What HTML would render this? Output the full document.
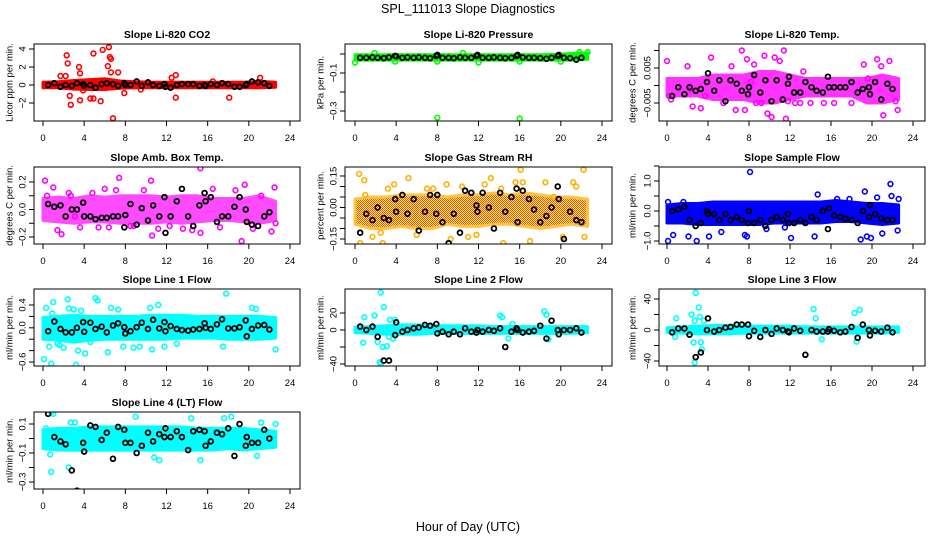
<!DOCTYPE html>
<html><head><meta charset="utf-8"><style>
html,body{margin:0;padding:0;background:#fff;}
svg{display:block;font-family:"Liberation Sans",Arial,sans-serif;}
</style></head><body>
<svg id="chart" width="936" height="540" viewBox="0 0 936 540" xmlns="http://www.w3.org/2000/svg">
<defs>
<pattern id="rhpat" width="2" height="2" patternUnits="userSpaceOnUse"><rect width="2" height="2" fill="#ffff00"/><rect width="1" height="1" fill="#ff0000"/><rect x="1" y="1" width="1" height="1" fill="#ff0000"/></pattern>
</defs>
<text x="468" y="13" text-anchor="middle" font-size="12.5">SPL_111013  Slope Diagnostics</text>
<text x="468" y="531" text-anchor="middle" font-size="12.5">Hour of Day (UTC)</text>
<g id="panels"></g>
</svg>
<script>
// ---- shared data ----
const xTicks = [0,4,8,12,16,20,24];
const blackHours = [0.5,1.1,1.7,2.2,2.8,3.3,3.9,4.0,4.6,5.1,5.7,6.2,6.8,7.3,7.9,8.0,8.5,9.1,9.6,10.2,10.7,11.3,11.8,11.9,12.4,13.0,13.5,14.1,14.6,15.2,15.7,15.8,16.3,16.9,17.4,18.0,18.6,19.1,19.7,19.8,20.3,20.9,21.5,22.0];
const bandHours = [0,1.5,3,4.5,6,7.5,9,10.5,12,13.5,15,16.5,18,19.5,21,22.6];

// ---- panel 1: CO2 ----
const co2BandLo = [-0.3,-0.3,-0.45,-0.5,-0.5,-0.35,-0.3,-0.3,-0.3,-0.3,-0.3,-0.3,-0.3,-0.3,-0.3,-0.25];
const co2BandHi = [0.3,0.35,0.5,0.6,0.7,0.45,0.35,0.3,0.3,0.3,0.3,0.3,0.3,0.3,0.4,0.3];
const co2OutH = [2.3,2.4,2.6,2.7,3.5,3.6,3.6,4.6,4.9,4.9,5.6,5.8,6.4,6.5,6.6,6.3,6.8,7.3,6.6,1.7,2.2,7.9,12.5,12.9,12.9,18.1,21.1,9.5,3.9,16.5];
const co2OutV = [3.3,2.4,-1.2,-2.2,2.0,1.3,-1.7,-1.5,-1.5,3.5,-1.8,3.9,4.2,3.1,2.9,2.1,-3.7,1.4,1.4,1.0,1.0,-0.9,0.8,1.1,-1.4,-1.4,0.8,-0.5,-0.6,0.4];
const co2Black = [0,0.2,-0.2,0,-0.1,0.2,0.1,-0.1,0,-0.3,0.1,0.2,0.1,-0.1,0.2,0,0,0.4,-0.1,0.3,0,-0.1,0.1,-0.2,-0.3,0,0.1,0.1,0.1,-0.1,0,-0.1,0.1,0,0.2,0.1,-0.2,-0.2,0,0.1,0.4,0.3,0.2,-0.1];

// ---- panel 2: pressure ----
const presBandLo = [-0.032,-0.032,-0.032,-0.032,-0.032,-0.032,-0.032,-0.032,-0.032,-0.032,-0.032,-0.032,-0.032,-0.032,-0.032,-0.028];
const presBandHi = [-0.004,-0.004,-0.004,-0.004,-0.004,-0.004,-0.004,-0.004,-0.004,-0.004,-0.004,-0.004,-0.004,-0.002,0.002,0.005];
const presOutH = [0,3.9,8,8,12,16,16,20,22.6,21.8,1.9,10.5];
const presOutV = [-0.045,-0.04,-0.04,-0.335,-0.045,-0.04,-0.34,-0.04,0.01,0.01,0.005,0.005];
const presBlack = [-0.02,-0.02,-0.018,-0.02,-0.022,-0.018,-0.01,-0.012,-0.02,-0.018,-0.02,-0.018,-0.02,-0.022,-0.01,-0.005,-0.02,-0.02,-0.022,-0.018,-0.02,-0.02,-0.01,-0.005,-0.02,-0.02,-0.018,-0.02,-0.022,-0.02,-0.01,-0.005,-0.018,-0.02,-0.02,-0.022,-0.025,-0.02,-0.01,-0.005,-0.02,-0.022,-0.03,-0.02];

// ---- panel 3: Li-820 temp ----
const tempBandLo = [-0.003,-0.003,-0.003,-0.004,-0.004,-0.004,-0.005,-0.005,-0.004,-0.003,-0.003,-0.003,-0.003,-0.005,-0.005,-0.004];
const tempBandHi = [0.002,0.002,0.002,0.003,0.003,0.003,0.004,0.004,0.003,0.002,0.002,0.002,0.002,0.002,0.003,0.002];
const tempOutH = [0,0.2,0.4,2,2.3,2.5,3.3,3.7,4.3,5.5,6.3,6.7,7.3,7.6,7.8,8.2,8.5,9.5,9.8,10.2,10.5,11,11.4,11.6,11.8,12.5,13,13.3,14,15.3,16.3,18,19.2,19.6,20.5,20.9,21.1,21.7,22.3,22.5,8.7,9.2];
const tempOutV = [0.007,-0.003,-0.004,0.0055,-0.001,-0.006,-0.0065,-0.003,0.008,-0.005,0.0055,-0.007,0.010,-0.007,0.0075,0.001,0.006,0.0085,-0.008,-0.009,0.008,0.007,0.010,-0.0095,-0.0045,-0.005,-0.005,0.004,-0.005,-0.005,-0.005,-0.005,0.006,0.002,0.0075,0.0055,-0.0085,0.007,-0.0045,-0.007,-0.005,-0.005];
const tempBlack = [-0.003,-0.0005,-0.0025,-0.0005,-0.0015,-0.001,0.001,0.0035,-0.0015,0.0015,-0.0045,0.0015,0.0005,-0.0015,-0.0025,-0.0005,0.003,-0.002,0.0015,-0.0045,0.0015,-0.004,0.0005,0.0025,-0.002,-0.002,0.001,-0.0005,-0.0015,-0.002,0.0025,-0.0005,-0.0005,-0.0005,-0.0005,0.001,-0.002,-0.001,-0.0005,-0.0025,0.001,-0.004,0.0005,-0.001];

// ---- panel 4: amb box temp ----
const ambBandLo = [-0.08,-0.09,-0.1,-0.09,-0.09,-0.1,-0.1,-0.1,-0.09,-0.1,-0.09,-0.08,-0.08,-0.09,-0.1,-0.08];
const ambBandHi = [0.08,0.09,0.08,0.1,0.09,0.1,0.1,0.1,0.09,0.1,0.1,0.08,0.08,0.08,0.1,0.06];
const ambOutH = [0.2,0.4,1,1.4,1.8,2.5,3.1,3.6,4.8,5.4,6,7.1,7.4,8.5,9.8,10.5,10.6,11.2,12.3,13.6,14.5,15.3,15.3,16.5,17.2,18.7,19.3,19.6,20.4,21.2,22.2,22.5,22.6,6.4,2.7,8.8];
const ambOutV = [0.21,0.1,0.16,-0.15,-0.18,0.12,-0.05,-0.13,0.12,-0.13,0.15,0.14,0.23,-0.12,0.14,0.21,-0.19,-0.14,-0.12,-0.14,-0.15,0.3,-0.17,0.15,-0.13,0.14,-0.23,0.18,-0.14,0.1,-0.16,0.16,-0.1,-0.13,0.1,-0.12];
const ambBlack = [0.04,0.02,0.03,-0.05,0,0,0.05,-0.05,-0.05,-0.07,-0.06,-0.06,-0.05,-0.05,-0.13,-0.04,0.04,-0.11,0.01,-0.08,0.03,-0.05,0.09,-0.17,-0.05,0.06,0.15,-0.05,-0.12,0.03,0.12,0.06,0.09,-0.09,-0.05,-0.05,0.02,0.09,0,-0.09,-0.11,-0.12,-0.05,-0.02];

// ---- panel 5: gas stream RH ----
const rhBandLo = [-0.08,-0.1,-0.1,-0.09,-0.1,-0.1,-0.08,-0.09,-0.09,-0.08,-0.08,-0.09,-0.1,-0.09,-0.08,-0.09];
const rhBandHi = [0.04,0.05,0.05,0.06,0.06,0.06,0.05,0.06,0.06,0.07,0.06,0.07,0.06,0.05,0.05,0.04];
const rhOutH = [0.4,0.5,0.9,1,1.7,2.5,2.7,3.2,3.8,5.2,6,7,7.6,8.9,9.3,10.4,11,13.2,14.2,14.4,15.6,16.1,16.3,17,18.5,19.3,20.2,21.2,21.5,22.2,22.3,12.6,11.8];
const rhOutV = [0.16,-0.17,0.13,0.06,-0.14,-0.12,-0.17,0.09,0.11,0.14,-0.13,0.09,0.09,0.11,-0.15,0.1,-0.14,0.14,0.09,-0.17,0.12,0.18,0.12,-0.16,0.12,0.05,-0.14,0.12,0.1,0.18,-0.14,0.11,-0.13];
const rhBlack = [-0.12,-0.03,-0.06,0,-0.05,-0.06,0.04,-0.02,0.06,-0.03,0.04,-0.11,-0.02,0.06,-0.03,0.06,-0.07,-0.17,-0.03,-0.12,0.08,0.07,0.01,-0.02,0.07,0,-0.1,0.07,-0.02,0.05,0.09,-0.07,0.08,0.04,-0.01,-0.07,-0.04,0,0.1,0.04,-0.15,-0.02,-0.06,-0.07];

// ---- panel 6: sample flow ----
const sfBandLo = [-0.4,-0.4,-0.45,-0.45,-0.45,-0.45,-0.45,-0.4,-0.4,-0.4,-0.4,-0.35,-0.35,-0.4,-0.45,-0.4];
const sfBandHi = [0.2,0.25,0.25,0.3,0.3,0.3,0.3,0.3,0.3,0.3,0.3,0.35,0.3,0.25,0.25,0.2];
const sfOutH = [0.1,0.6,2.1,2.9,4.1,5.3,7.6,7.8,8.1,9.7,11.5,12.1,14.4,14.7,16.6,17.8,18.9,19.3,19.5,19.9,20.5,21,21.8,21.9,22.5,22.6,1.6,0.1];
const sfOutV = [-1,-0.8,-0.85,-1,-0.85,-0.7,-0.8,-0.85,1.3,-0.6,-0.55,-0.9,-0.85,0.55,0.4,0.4,-0.95,0.65,-0.85,-0.9,0.45,-0.75,0.9,0.5,-0.65,0.4,0.3,0.3];
const sfBlack = [0,0.05,0.15,-0.3,-0.5,-0.4,0,-0.1,-0.1,-0.3,-0.1,-0.3,-0.2,-0.3,-0.4,0,-0.4,-0.3,-0.5,-0.3,-0.2,-0.3,-0.1,-0.4,-0.4,-0.3,-0.4,-0.2,-0.3,0,-0.6,0.1,-0.15,-0.2,-0.25,-0.3,-0.4,0,-0.2,0.2,-0.1,-0.25,-0.3,-0.3];

// ---- panel 7: line 1 flow ----
const l1BandLo = [-0.2,-0.22,-0.25,-0.22,-0.2,-0.2,-0.2,-0.2,-0.2,-0.18,-0.18,-0.18,-0.2,-0.2,-0.2,-0.18];
const l1BandHi = [0.18,0.2,0.22,0.2,0.2,0.2,0.2,0.22,0.22,0.22,0.2,0.2,0.2,0.2,0.2,0.18];
const l1OutH = [0.1,0.3,0.6,0.8,1,1.6,2,2.4,2.5,3,3.2,3.4,3.7,4.1,4.6,5.1,5.3,6.3,6.6,7.8,7.3,8.8,9.4,10.4,10.6,11.2,11.8,13,17.5,17.8,20.3,20.7,22.6,0.9,1.4];
const l1OutV = [-0.55,0.35,-0.33,-0.63,0.45,-0.3,-0.35,0.5,0.34,0.32,-0.65,-0.4,0.3,-0.45,-0.25,0.52,0.48,-0.43,0.35,-0.33,0.32,-0.35,-0.33,0.35,-0.38,0.4,-0.33,-0.28,-0.33,0.6,0.35,0.33,-0.38,0.25,-0.28];
const l1Black = [-0.06,0.11,-0.02,-0.08,-0.08,0,0.1,-0.07,0.09,-0.02,0.02,-0.08,0.04,0.08,0.01,-0.1,-0.06,0.01,0.09,-0.02,0.14,-0.01,0.1,-0.06,0.03,-0.02,-0.04,-0.05,-0.03,-0.02,0.08,0,-0.02,0.06,0.15,-0.01,-0.01,0.01,0.13,-0.15,-0.02,0.04,0.05,-0.03];

// ---- panel 8: line 2 flow ----
const l2BandLo = [-3,-4,-5,-5,-5,-4,-4,-4,-4,-4,-4,-4,-4,-4,-4,-3];
const l2BandHi = [3,4,5,6,6,5,5,5,5,4,4,4,4,4,4,4];
const l2OutH = [0.8,0.9,1.9,2.2,2.4,2.5,2.7,2.8,3.1,3.4,3.7,3.9,14.1,14.3,14.9,15.3,18.4,18.6,18.8,3.3,2.5];
const l2OutV = [-15,15,17,-14,-38,44,-20,27,-19,12,-10,12,17,15,-10,7,22,18,-11,-8,-40];
const l2Black = [4,0,4,-8,-36,-36,-6,9,-2,0,2,3,6,5,7,-4,-2,-5,-2,-5,2,-2,-3,0,-2,0,-1,2,-20,-2,2,0,-3,-2,-1,5,-10,11,0,-5,0,0,2,-3];

// ---- panel 9: line 3 flow ----
const l3BandLo = [-3,-4,-5,-5,-5,-4,-4,-4,-4,-4,-4,-4,-4,-4,-4,-3];
const l3BandHi = [3,4,5,6,6,5,5,5,5,4,4,4,4,4,4,4];
const l3OutH = [0.8,0.9,2.4,2.6,2.7,2.8,3.1,3.2,3.4,3.6,14.3,14.5,15.1,18.3,18.5,18.8,2.7,3.3];
const l3OutV = [-9,15,20,-16,-42,48,29,17,-25,12,27,15,-12,22,-15,26,12,-16];
const l3Black = [-3,2,2,-6,-35,-29,0,15,-2,0,3,4,7,7,7,-8,-1,-9,0,-5,2,0,-2,-3,2,-1,-32,0,-2,-2,-2,1,-1,-3,-2,4,-10,7,0,-7,-1,-2,3,-3];

// ---- panel 10: line 4 flow ----
const l4BandLo = [-0.07,-0.08,-0.08,-0.08,-0.08,-0.08,-0.08,-0.08,-0.08,-0.08,-0.08,-0.08,-0.07,-0.08,-0.07,-0.06];
const l4BandHi = [0.06,0.07,0.07,0.08,0.08,0.08,0.08,0.08,0.08,0.08,0.07,0.07,0.07,0.07,0.06,0.05];
const l4OutH = [0.8,0.7,0.8,1,2.7,2.5,3.1,9,11.3,14.4,15.3,17.6,18.3,20.8,21.2,22.6,0.3,10.8];
const l4OutV = [0.18,-0.11,-0.23,0.17,0.11,-0.2,0.11,0.15,-0.15,0.14,-0.15,0.14,0.15,-0.12,0.11,0.1,0.07,-0.13];
const l4Black = [0.17,0.01,-0.02,-0.04,-0.22,-0.36,-0.03,-0.09,0.09,0.08,-0.01,0.04,-0.14,0.08,0.06,-0.03,-0.03,-0.1,-0.05,0.04,-0.02,0.03,0.01,0.07,0.01,0.05,0.01,-0.08,0.05,0.06,0.05,-0.05,-0.02,0.04,0.03,0.07,-0.12,0.1,-0.05,0.01,-0.03,-0.03,0.06,0];

const NS = "http://www.w3.org/2000/svg";
const root = document.getElementById('panels');
function mk(tag, attrs, parent){
  const e = document.createElementNS(NS, tag);
  for (const k in attrs) e.setAttribute(k, attrs[k]);
  parent.appendChild(e);
  return e;
}
const cols = [{l:34,r:300,x0:43,x24:290,yl:9},{l:345,r:612,x0:355,x24:602,yl:320},{l:659,r:925,x0:667,x24:913,yl:632}];
const rows = [{t:44,b:121},{t:167,b:244},{t:289,b:366},{t:412,b:489}];

const panels = [
 {key:'co2',title:'Slope Li-820 CO2',ylab:'Licor ppm per min.',c:0,r:0,cal:[4,49,-2,103],ticks:[-2,0,2,4],labels:{'-2':'\u22122','0':'0','2':'2','4':'4'},color:'#ff0000',op:1,lo:co2BandLo,hi:co2BandHi,oh:co2OutH,ov:co2OutV,bv:co2Black},
 {key:'pressure',title:'Slope Li-820 Pressure',ylab:'kPa per min.',c:1,r:0,cal:[-0.1,73,-0.3,111],ticks:[-0.3,-0.2,-0.1,0],labels:{'-0.1':'\u22120.1','-0.3':'\u22120.3'},color:'#00ff00',op:1,lo:presBandLo,hi:presBandHi,oh:presOutH,ov:presOutV,bv:presBlack},
 {key:'li820-temp',title:'Slope Li-820 Temp.',ylab:'degrees C per min.',c:2,r:0,cal:[0.005,68,-0.005,103],ticks:[-0.005,0,0.005,0.01],labels:{'0.005':'0.005','-0.005':'\u22120.005'},color:'#ff00ff',op:0.8,lo:tempBandLo,hi:tempBandHi,oh:tempOutH,ov:tempOutV,bv:tempBlack},
 {key:'amb-box-temp',title:'Slope Amb. Box Temp.',ylab:'degrees C per min.',c:0,r:1,cal:[0.2,182,-0.2,237],ticks:[-0.2,-0.1,0,0.1,0.2],labels:{'0.2':'0.2','0':'0.0','-0.2':'\u22120.2'},color:'#ff00ff',op:0.7,lo:ambBandLo,hi:ambBandHi,oh:ambOutH,ov:ambOutV,bv:ambBlack},
 {key:'gas-stream-rh',title:'Slope Gas Stream RH',ylab:'percent per min.',c:1,r:1,cal:[0.15,176,-0.15,239],ticks:[-0.15,-0.1,-0.05,0,0.05,0.1,0.15],labels:{'0.15':'0.15','0':'0.00','-0.15':'\u22120.15'},color:'#ffb000',fill:'url(#rhpat)',op:0.75,lo:rhBandLo,hi:rhBandHi,oh:rhOutH,ov:rhOutV,bv:rhBlack},
 {key:'sample-flow',title:'Slope Sample Flow',ylab:'ml/min per min.',c:2,r:1,cal:[1,181,-1,241],ticks:[-1,-0.5,0,0.5,1,1.5],labels:{'1':'1.0','0':'0.0','-1':'\u22121.0'},color:'#0000ff',op:1,lo:sfBandLo,hi:sfBandHi,oh:sfOutH,ov:sfOutV,bv:sfBlack},
 {key:'line1-flow',title:'Slope Line 1 Flow',ylab:'ml/min per min.',c:0,r:2,cal:[0.4,305,-0.6,362],ticks:[-0.6,-0.4,-0.2,0,0.2,0.4],labels:{'0.4':'0.4','0':'0.0','-0.6':'\u22120.6'},color:'#00ffff',op:1,lo:l1BandLo,hi:l1BandHi,oh:l1OutH,ov:l1OutV,bv:l1Black},
 {key:'line2-flow',title:'Slope Line 2 Flow',ylab:'ml/min per min.',c:1,r:2,cal:[20,313,-40,364],ticks:[-40,-20,0,20],labels:{'20':'20','0':'0','-40':'\u221240'},color:'#00ffff',op:1,lo:l2BandLo,hi:l2BandHi,oh:l2OutH,ov:l2OutV,bv:l2Black},
 {key:'line3-flow',title:'Slope Line 3 Flow',ylab:'ml/min per min.',c:2,r:2,cal:[40,299,-40,361],ticks:[-40,-20,0,20,40],labels:{'40':'40','0':'0','-40':'\u221240'},color:'#00ffff',op:1,lo:l3BandLo,hi:l3BandHi,oh:l3OutH,ov:l3OutV,bv:l3Black},
 {key:'line4-flow',title:'Slope Line 4 (LT) Flow',ylab:'ml/min per min.',c:0,r:3,cal:[0.1,424,-0.3,482],ticks:[-0.3,-0.2,-0.1,0,0.1],labels:{'0.1':'0.1','-0.1':'\u22120.1','-0.3':'\u22120.3'},color:'#00ffff',op:1,lo:l4BandLo,hi:l4BandHi,oh:l4OutH,ov:l4OutV,bv:l4Black}
];

panels.forEach(p => {
  const C = cols[p.c], R = rows[p.r];
  const xS = h => C.x0 + (C.x24 - C.x0) * h / 24;
  const [v1,y1,v2,y2] = p.cal;
  const yS = v => y1 + (v - v1) * (y2 - y1) / (v2 - v1);
  const g = mk('g', {}, root);
  
  
  const clipId = 'clip-' + p.key;
  const cp = mk('clipPath', {id: clipId}, g);
  mk('rect', {x:C.l, y:R.t, width:C.r-C.l, height:R.b-R.t}, cp);
  const title = mk('text', {x:(C.l+C.r)/2, y:R.t-6, 'text-anchor':'middle', 'font-size':'10.5', 'font-weight':'bold'}, g);
  title.textContent = p.title;
  
  
  const yl = mk('text', {x:0, y:0, 'text-anchor':'middle', 'font-size':'9.5', transform:'translate(' + C.yl + ',' + ((R.t+R.b)/2) + ') rotate(-90)', dy:'0.35em'}, g);
  yl.textContent = p.ylab;
  
  
  const plot = mk('g', {'clip-path':'url(#' + clipId + ')'}, g);
  let d = '';
  p.lo.forEach((v,i) => { d += (i ? 'L' : 'M') + xS(bandHours[i]).toFixed(1) + ',' + yS(p.hi[i]).toFixed(1); });
  for (let i = p.lo.length - 1; i >= 0; i--) d += 'L' + xS(bandHours[i]).toFixed(1) + ',' + yS(p.lo[i]).toFixed(1);
  d += 'Z';
  const band = mk('path', {d:d, fill:p.fill || p.color, stroke:p.color, 'stroke-width':'3', 'stroke-linejoin':'round', opacity:p.op}, plot);
  
  
  p.oh.forEach((h,i) => {
    if (i >= p.ov.length) return;
    const c = mk('circle', {cx:xS(h), cy:yS(p.ov[i]), r:2.4, fill:'none', stroke:p.color, 'stroke-width':'1.6'}, plot);
    
    
  });
  blackHours.forEach((h,i) => {
    if (i >= p.bv.length) return;
    const c = mk('circle', {cx:xS(h), cy:yS(p.bv[i]), r:2.4, fill:'none', stroke:'#000', 'stroke-width':'1.8'}, plot);
    
    
  });
  const box = mk('rect', {x:C.l, y:R.t, width:C.r-C.l, height:R.b-R.t, fill:'none', stroke:'#000', 'stroke-width':'1'}, g);
  
  
  xTicks.forEach(t => {
    mk('line', {x1:xS(t), x2:xS(t), y1:R.b, y2:R.b+5, stroke:'#000'}, g);
    const tl = mk('text', {x:xS(t), y:R.b+20, 'text-anchor':'middle', 'font-size':'9.5'}, g);
    tl.textContent = String(t);
    
    
  });
  p.ticks.forEach(t => {
    const y = yS(t);
    if (y < R.t - 1 || y > R.b + 1) return;
    mk('line', {x1:C.l-5, x2:C.l, y1:y, y2:y, stroke:'#000'}, g);
    const lab = p.labels[String(t)];
    if (lab) {
      const tl = mk('text', {x:0, y:0, 'text-anchor':'middle', 'font-size':'9.5', transform:'translate(' + (C.l-12) + ',' + y + ') rotate(-90)', dy:'0.35em'}, g);
      tl.textContent = lab;
      
      
    }
  });
});
</script>
</body></html>
